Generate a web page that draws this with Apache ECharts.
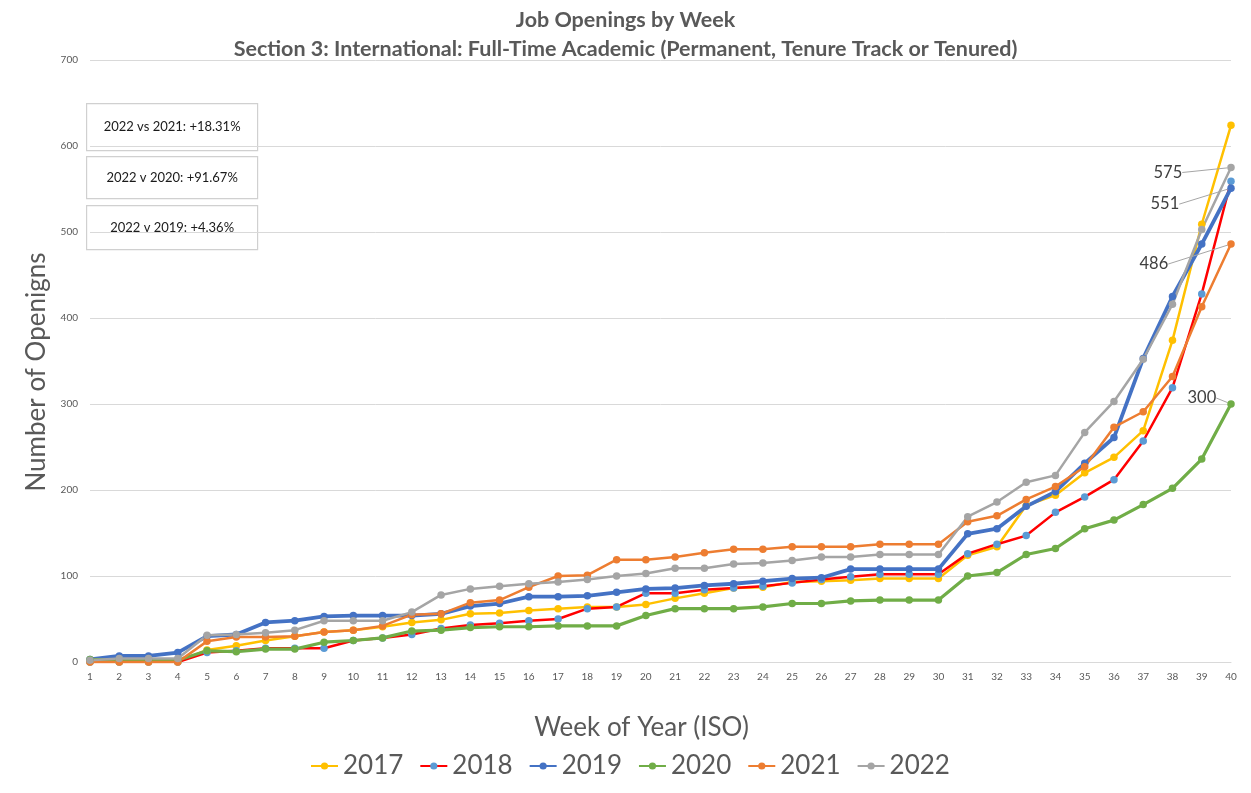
<!DOCTYPE html>
<html>
<head>
<meta charset="utf-8">
<title>Job Openings by Week</title>
<script src="https://cdn.jsdelivr.net/npm/echarts@6/dist/echarts.min.js"></script>
<style>
  html, body { margin: 0; padding: 0; background: #fff; }
  #main { width: 1251px; height: 793px; }
</style>
</head>
<body>
<div id="main"></div>
<script>
// weeks of the year (x axis categories)
var weeks = ['1','2','3','4','5','6','7','8','9','10','11','12','13','14','15','16','17','18','19','20',
  '21','22','23','24','25','26','27','28','29','30','31','32','33','34','35','36','37','38','39','40'];

var yTicks = [0, 100, 200, 300, 400, 500, 600, 700];

// cumulative openings per week
var y2017 = [0, 0, 0, 0, 14, 19, 25, 30, 35, 37, 41, 46, 49, 56, 57, 60, 62, 64, 64, 67,
  74, 80, 86, 87, 93, 94, 95, 97, 97, 97, 124, 134, 182, 194, 220, 238, 269, 374, 509, 624];
var y2018 = [0, 0, 0, 0, 11, 13, 16, 16, 16, 25, 28, 32, 39, 43, 45, 48, 50, 62, 64, 80,
  80, 84, 86, 88, 92, 96, 99, 102, 102, 102, 126, 137, 147, 174, 192, 212, 257, 319, 428, 559];
var y2019 = [3, 7, 7, 11, 30, 32, 46, 48, 53, 54, 54, 54, 56, 65, 68, 76, 76, 77, 81, 85,
  86, 89, 91, 94, 97, 98, 108, 108, 108, 108, 149, 155, 181, 198, 231, 261, 353, 425, 486, 551];
var y2020 = [3, 2, 2, 2, 13, 12, 15, 15, 23, 25, 28, 36, 37, 40, 41, 41, 42, 42, 42, 54,
  62, 62, 62, 64, 68, 68, 71, 72, 72, 72, 100, 104, 125, 132, 155, 165, 183, 202, 236, 300];
var y2021 = [0, 0, 0, 0, 24, 29, 29, 30, 35, 37, 42, 55, 56, 69, 72, 87, 100, 101, 119, 119,
  122, 127, 131, 131, 134, 134, 134, 137, 137, 137, 163, 170, 189, 204, 227, 273, 291, 332, 413, 486];
var y2022 = [2, 4, 4, 4, 31, 32, 34, 37, 48, 48, 48, 58, 78, 85, 88, 91, 93, 96, 100, 103,
  109, 109, 114, 115, 118, 122, 122, 125, 125, 125, 169, 186, 209, 217, 267, 303, 352, 416, 503, 575];

var compareNotes = ['2022 vs 2021: +18.31%', '2022 v 2020: +91.67%', '2022 v 2019: +4.36%'];

var font = "Lato, sans-serif";

var myChart = echarts.init(document.getElementById('main'));

// make one line series, optionally with a label on the last point
function makeSeries(name, data, lineColor, dotColor, width, endLabel) {
  var points = data.slice();
  if (endLabel) {
    var last = points.length - 1;
    points[last] = {
      value: data[last],
      label: {
        show: true,
        position: 'left',
        distance: 5,
        formatter: '{c}',
        fontSize: 16.5,
        fontFamily: font,
        color: '#404040'
      }
    };
  }
  var s = {
    name: name,
    type: 'line',
    data: points,
    symbol: 'circle',
    symbolSize: 7.5,
    showSymbol: true,
    lineStyle: { color: lineColor, width: width },
    itemStyle: { color: dotColor },
    emphasis: { disabled: true },
    label: { show: false },
    z: 2
  };
  if (endLabel) {
    s.labelLayout = { dx: endLabel[0], dy: endLabel[1] };
    s.labelLine = { show: true, lineStyle: { color: '#a6a6a6', width: 1 } };
  }
  return s;
}

var boxes = [];
var boxTops = [103, 156, 205];
var boxHeights = [47, 42, 44];
compareNotes.forEach(function (txt, i) {
  boxes.push({
    type: 'group',
    left: 86,
    top: boxTops[i],
    children: [
      {
        type: 'rect',
        shape: { x: 0, y: 0, width: 171, height: boxHeights[i] },
        style: { fill: '#fff', stroke: '#d0d0d0', lineWidth: 1.2 }
      },
      {
        type: 'text',
        x: 85.5,
        y: boxHeights[i] / 2,
        style: {
          text: txt,
          align: 'center',
          verticalAlign: 'middle',
          fontSize: 13,
          fontFamily: font,
          fill: '#1a1a1a'
        }
      }
    ]
  });
});

var option = {
  backgroundColor: '#fff',
  animation: false,
  title: {
    text: 'Job Openings by Week\nSection 3: International: Full-Time Academic (Permanent, Tenure Track or Tenured)',
    left: 'center',
    top: 1,
    textStyle: {
      fontSize: 21.5,
      fontWeight: 'bold',
      fontFamily: font,
      color: '#595959',
      lineHeight: 29
    }
  },
  legend: {
    left: 305,
    top: 748,
    itemWidth: 27,
    itemHeight: 9,
    itemGap: 16,
    textStyle: { fontSize: 26, fontFamily: font, color: '#595959' },
    data: ['2017', '2018', '2019', '2020', '2021', '2022']
  },
  grid: {
    left: 90,
    right: 20,
    top: 60,
    bottom: 131,
    containLabel: false
  },
  xAxis: {
    type: 'category',
    data: weeks,
    boundaryGap: false,
    name: 'Week of Year (ISO)',
    nameLocation: 'middle',
    nameGap: 53,
    nameTextStyle: { fontSize: 26, fontFamily: font, color: '#595959', padding: [0, 38, 0, 0] },
    axisLine: { lineStyle: { color: '#d9d9d9' } },
    axisTick: { show: false },
    axisLabel: { fontSize: 10, fontFamily: font, color: '#595959', margin: 10, interval: 0 },
    splitLine: { show: false }
  },
  yAxis: {
    type: 'value',
    min: yTicks[0],
    max: yTicks[yTicks.length - 1],
    interval: 100,
    name: 'Number of Openigns',
    nameLocation: 'middle',
    nameGap: 34,
    nameTextStyle: { fontSize: 26, fontFamily: font, color: '#595959', padding: [0, 22, 0, 0] },
    axisLine: { show: false },
    axisTick: { show: false },
    axisLabel: { fontSize: 10, fontFamily: font, color: '#595959', margin: 12 },
    splitLine: { lineStyle: { color: '#d9d9d9', width: 1 } }
  },
  series: [
    makeSeries('2017', y2017, '#FFC000', '#FFC000', 2.5, null),
    makeSeries('2018', y2018, '#FF0000', '#5B9BD5', 2.5, null),
    makeSeries('2019', y2019, '#4472C4', '#4472C4', 3.8, [-43, 16]),
    makeSeries('2020', y2020, '#70AD47', '#70AD47', 3.2, [-6, -6]),
    makeSeries('2021', y2021, '#ED7D31', '#ED7D31', 2.5, [-54, 20]),
    makeSeries('2022', y2022, '#A5A5A5', '#A5A5A5', 2.5, [-40, 5])
  ],
  graphic: boxes
};

myChart.setOption(option);
window.addEventListener('resize', myChart.resize);
</script>
</body>
</html>
